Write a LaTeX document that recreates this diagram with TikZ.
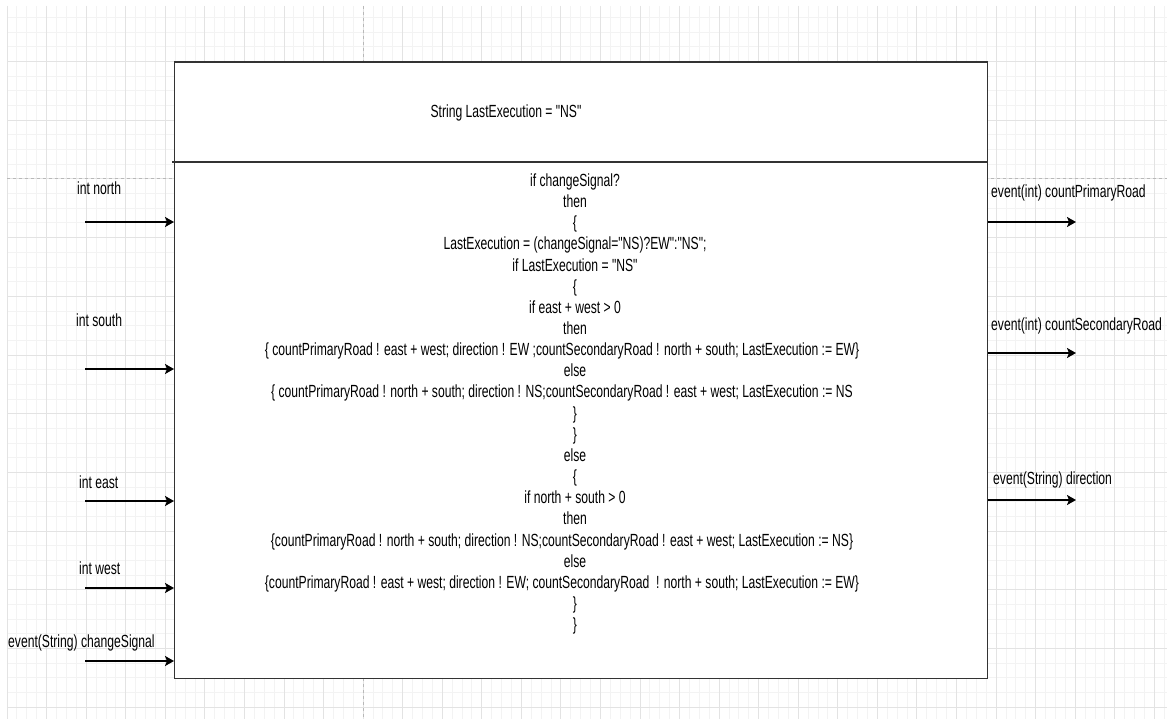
\documentclass[tikz,border=0pt]{standalone}
\usepackage{fontspec}
\setmainfont[FakeStretch=0.69,Ligatures=TeXOff]{Liberation Sans}
\usepackage{tikz}
\usetikzlibrary{arrows.meta,calc,positioning}
\definecolor{gridminor}{HTML}{F3F3F3}
\definecolor{gridmajor}{HTML}{E3E3E3}
\definecolor{pagebreak}{HTML}{B8B8B8}
\definecolor{edge}{HTML}{333333}
\newcommand{\tailgap}{\rule{26pt}{0pt}}

\begin{document}
\begin{tikzpicture}[x=1pt,y=-1pt,>={Stealth[length=9pt,width=10pt,inset=2pt]},
  every node/.style={font=\fontsize{17.6}{21.15}\selectfont,inner sep=0pt},
  frame/.style={draw=edge,line width=1.4pt,fill=white},
  port/.style={->,line width=1.6pt,black},
  lbl/.style={anchor=west}]
  \useasboundingbox (0,0) rectangle (1167,719);
  % background grid
  \foreach \k in {0,...,117} \draw[gridminor,line width=0.8pt] ({7+9.89*\k},6) -- ({7+9.89*\k},719);
  \foreach \k in {1,...,48} \draw[gridminor,line width=0.8pt] (7,{2.85+14.67*\k}) -- (1167,{2.85+14.67*\k});
  \foreach \k in {0,4,...,116} \draw[gridmajor,line width=0.8pt] ({7+9.89*\k},6) -- ({7+9.89*\k},719);
  \foreach \k in {4,8,...,48} \draw[gridmajor,line width=0.8pt] (7,{2.85+14.67*\k}) -- (1167,{2.85+14.67*\k});
  \draw[pagebreak,dashed,line width=0.8pt] (363,6) -- (363,719);
  \draw[pagebreak,dashed,line width=0.8pt] (7,178.8) -- (1167,178.8);

  % the block
  \node (blk) [frame,anchor=north west,minimum width=813,minimum height=616] at (174,61.5) {};
  \draw[edge,line width=1.4pt] (172,162) -- (blk.east |- 0,162);
  \node (state) at (506,113) {String LastExecution = "NS"};
  \node (code) [align=center,anchor=north] at (575,173.5) {if changeSignal?\\
    then\\
    \{\\
    LastExecution = (changeSignal="NS)?EW":"NS";\\
    if LastExecution = "NS"\\
    \{\\
    if east + west > 0\\
    then\\
    \{ countPrimaryRoad ! east + west; direction ! EW ;countSecondaryRoad ! north + south; LastExecution := EW\}\tailgap\\
    else\\
    \{ countPrimaryRoad ! north + south; direction ! NS;countSecondaryRoad ! east + west; LastExecution := NS\tailgap\\
    \}\\
    \}\\
    else\\
    \{\\
    if north + south > 0\\
    then\\
    \{countPrimaryRoad ! north + south; direction ! NS;countSecondaryRoad ! east + west; LastExecution := NS\}\tailgap\\
    else\\
    \{countPrimaryRoad ! east + west; direction ! EW; countSecondaryRoad \ ! north + south; LastExecution := EW\}\tailgap\\
    \}\\
    \}};

  % inputs
  \coordinate (inN) at (85,222);
  \coordinate (inS) at (85,369);
  \coordinate (inE) at (85,501);
  \coordinate (inW) at (85,588);
  \coordinate (inC) at (85,661);
  \node (lblN) [lbl] at (77,188) {int north};
  \node (lblS) [lbl] at (76,320) {int south};
  \node (lblE) [lbl] at (79,482) {int east};
  \node (lblW) [lbl] at (79,568) {int west};
  \node (lblC) [lbl] at (8,643) {event(String) changeSignal};
  \foreach \p in {inN,inS,inE,inW,inC} \draw[port] (\p) -- (\p -| blk.west);

  % outputs
  \coordinate (outP) at (1076,222);
  \coordinate (outS) at (1076,353);
  \coordinate (outD) at (1076,500);
  \node (lblP) [lbl] at (991,193) {event(int) countPrimaryRoad};
  \node (lblQ) [lbl] at (991,326) {event(int) countSecondaryRoad};
  \node (lblD) [lbl] at (993,480) {event(String) direction};
  \foreach \p in {outP,outS,outD} \draw[port] (\p -| blk.east) -- (\p);
\end{tikzpicture}
\end{document}
